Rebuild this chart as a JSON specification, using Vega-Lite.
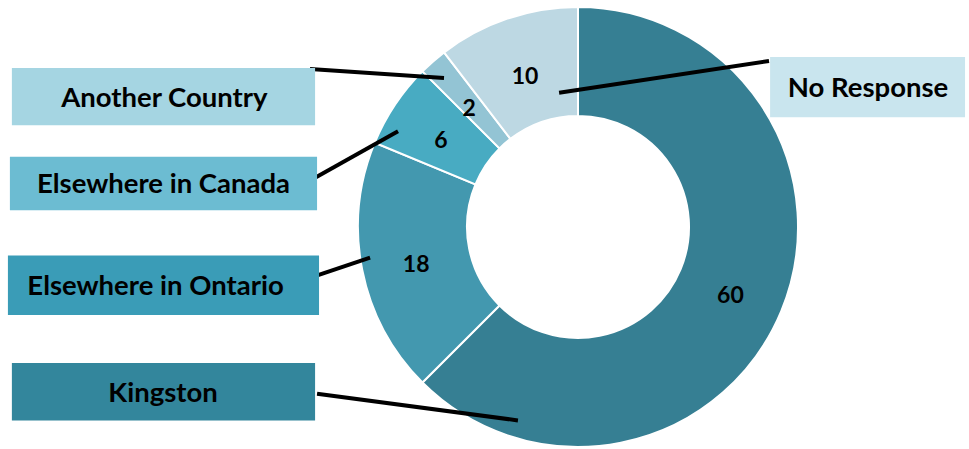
{
  "$schema": "https://vega.github.io/schema/vega-lite/v6.json",
  "width": 969,
  "height": 449,
  "autosize": {"type": "fit", "contains": "padding"},
  "padding": 0,
  "background": "white",
  "view": {"stroke": null},
  "config": {"font": "Lato"},
  "datasets": {
    "slices": [
      {"category": "Kingston", "value": 60, "rank": 1},
      {"category": "Elsewhere in Ontario", "value": 18, "rank": 2},
      {"category": "Elsewhere in Canada", "value": 6, "rank": 3},
      {"category": "Another Country", "value": 2, "rank": 4},
      {"category": "No Response", "value": 10, "rank": 5}
    ],
    "callouts": [
      {"category": "Another Country", "bx1": -2.573, "bx2": -1.195, "by1": 0.732, "by2": 0.468, "tx": -1.88, "ty": 0.6, "lx1": -1.218, "ly1": 0.727, "lx2": -0.609, "ly2": 0.686},
      {"category": "Elsewhere in Canada", "bx1": -2.582, "bx2": -1.186, "by1": 0.323, "by2": 0.077, "tx": -1.884, "ty": 0.2, "lx1": -1.195, "ly1": 0.227, "lx2": -0.818, "ly2": 0.441},
      {"category": "Elsewhere in Ontario", "bx1": -2.591, "bx2": -1.177, "by1": -0.132, "by2": -0.405, "tx": -1.92, "ty": -0.268, "lx1": -1.195, "ly1": -0.227, "lx2": -0.945, "ly2": -0.141},
      {"category": "Kingston", "bx1": -2.573, "bx2": -1.195, "by1": -0.627, "by2": -0.891, "tx": -1.886, "ty": -0.759, "lx1": -1.186, "ly1": -0.768, "lx2": -0.273, "ly2": -0.891},
      {"category": "No Response", "bx1": 0.873, "bx2": 1.759, "by1": 0.782, "by2": 0.505, "tx": 1.318, "ty": 0.643, "lx1": -0.086, "ly1": 0.618, "lx2": 0.868, "ly2": 0.764}
    ]
  },
  "layer": [
    {
      "data": {"name": "slices"},
      "mark": {"type": "arc", "innerRadius": 111, "outerRadius": 220, "stroke": "white", "strokeWidth": 2},
      "encoding": {
        "x": {"datum": 0, "type": "quantitative", "scale": {"domain": [-2.627, 1.777], "nice": false, "zero": false}, "axis": null},
        "y": {"datum": 0, "type": "quantitative", "scale": {"domain": [-0.995, 1.045], "nice": false, "zero": false}, "axis": null},
        "theta": {"field": "value", "type": "quantitative", "stack": true},
        "order": {"field": "rank", "type": "quantitative"},
        "color": {
          "field": "category", "type": "nominal", "legend": null,
          "scale": {
            "domain": ["Kingston", "Elsewhere in Ontario", "Elsewhere in Canada", "Another Country", "No Response"],
            "range": ["#367F93", "#4398AF", "#48ABC2", "#93C4D4", "#BDD8E3"]
          }
        }
      }
    },
    {
      "data": {"name": "slices"},
      "mark": {"type": "text", "radius": 165, "fontSize": 23, "fontWeight": "bold", "color": "black", "baseline": "middle", "align": "center", "dy": 6},
      "encoding": {
        "x": {"datum": 0, "type": "quantitative"},
        "y": {"datum": 0, "type": "quantitative"},
        "theta": {"field": "value", "type": "quantitative", "stack": true},
        "order": {"field": "rank", "type": "quantitative"},
        "detail": {"field": "category", "type": "nominal"},
        "text": {"field": "value", "type": "quantitative"}
      }
    },
    {
      "data": {"name": "callouts"},
      "mark": {"type": "rule", "strokeWidth": 4, "color": "black"},
      "encoding": {
        "x": {"field": "lx1", "type": "quantitative"},
        "y": {"field": "ly1", "type": "quantitative"},
        "x2": {"field": "lx2"},
        "y2": {"field": "ly2"}
      }
    },
    {
      "data": {"name": "callouts"},
      "mark": {"type": "rect"},
      "encoding": {
        "x": {"field": "bx1", "type": "quantitative"},
        "x2": {"field": "bx2"},
        "y": {"field": "by1", "type": "quantitative"},
        "y2": {"field": "by2"},
        "fill": {
          "field": "category", "type": "nominal", "legend": null,
          "scale": {
            "domain": ["Kingston", "Elsewhere in Ontario", "Elsewhere in Canada", "Another Country", "No Response"],
            "range": ["#33869C", "#3A9CB7", "#6CBCD2", "#A5D5E2", "#C9E5EE"]
          }
        }
      }
    },
    {
      "data": {"name": "callouts"},
      "mark": {"type": "text", "fontSize": 27.5, "fontWeight": "bold", "color": "black", "baseline": "middle", "align": "center", "dy": 2},
      "encoding": {
        "x": {"field": "tx", "type": "quantitative"},
        "y": {"field": "ty", "type": "quantitative"},
        "text": {"field": "category", "type": "nominal"}
      }
    }
  ]
}
